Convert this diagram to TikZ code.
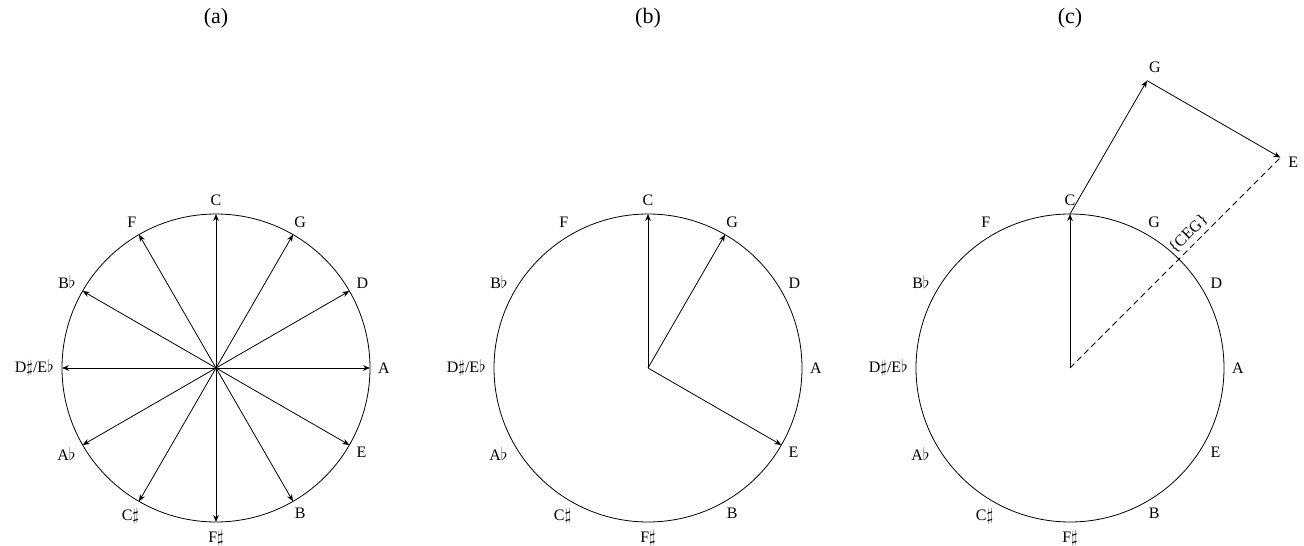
\documentclass[tikz,border=0pt]{standalone}
\usepackage{fontspec}
\setmainfont{Liberation Serif}
\usetikzlibrary{arrows.meta,calc}
\begin{document}
\begin{tikzpicture}[x=1pt,y=1pt,
  notelabel/.style={font=\fontsize{16}{19}\selectfont, inner sep=0pt},
  vec/.style={-{Stealth[length=7pt,width=5.5pt]}, line width=0.8pt},
  title/.style={font=\fontsize{22}{26}\selectfont, inner sep=0pt},
  ring/.style={line width=0.8pt}]
\useasboundingbox (0,0) rectangle (1304,546);
\foreach \p/\cx in {a/216,b/648,c/1070} {
  \coordinate (\p0) at (\cx,178);
  \draw[ring] (\p0) circle (154);
  \node[title] (\p-title) at (\cx,528) {(\p)};
  \foreach \n/\ang/\txt in {C/90/C, G/60/G, D/30/D, A/0/A, E/-30/E, B/-60/B, Fs/-90/{F$\sharp$}, Cs/-120/{C$\sharp$}, Ab/-150/{A$\flat$}, Eb/180/{D$\sharp$/E$\flat$}, Bb/150/{B$\flat$}, F/120/F} {
    \coordinate (\p-\n-pt) at ($(\p0)+(\ang:154)$);
    \pgfmathsetmacro{\anc}{\ang+180}
    \node[notelabel, anchor=\anc] (\p-\n) at ($(\p0)+(\ang:162)$) {\txt};
  }
}
% (a): all twelve vectors
\foreach \n in {C,G,D,A,E,B,Fs,Cs,Ab,Eb,Bb,F}
  \draw[vec] (a0) -- (a-\n-pt);
% (b)
\foreach \n in {C,G,E}
  \draw[vec] (b0) -- (b-\n-pt);
% (c)
\coordinate (c-G2) at ($(c-C-pt)+(60:154)$);
\coordinate (c-E2) at ($(c-G2)+(-30:154)$);
\draw[vec] (c0) -- (c-C-pt);
\draw[vec] (c-C-pt) -- (c-G2);
\draw[vec] (c-G2) -- (c-E2);
\node[notelabel] (c-G2-label) at ($(c-G2)+(8,13)$) {G};
\node[notelabel] (c-E2-label) at ($(c-E2)+(13,-5)$) {E};
\draw[line width=0.8pt, dash pattern=on 6pt off 4pt] (c0) -- node[pos=0.6, above, sloped, notelabel, inner sep=4pt] (c-ceg) {\{CEG\}} (c-E2);
\end{tikzpicture}
\end{document}
